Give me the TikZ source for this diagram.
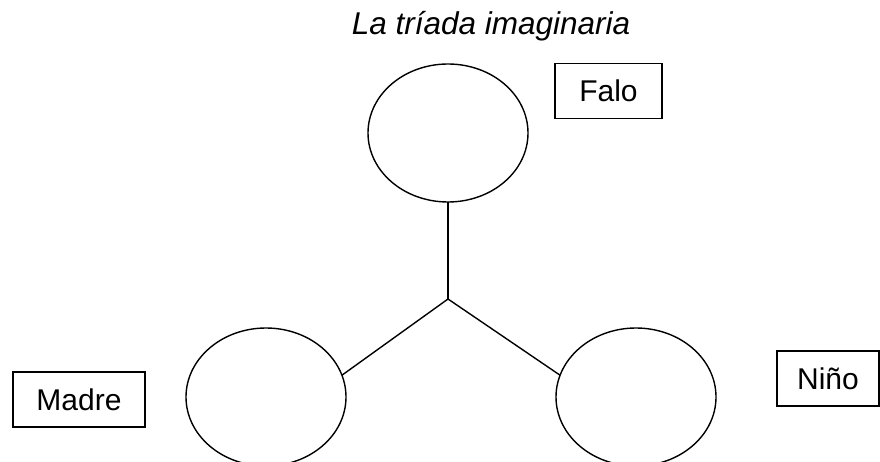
\documentclass[tikz,border=0pt]{standalone}
\usepackage{fontspec}
\setmainfont{Liberation Sans}
\usetikzlibrary{shapes.geometric}
\begin{document}
\begin{tikzpicture}[x=1pt,y=-1pt,line width=1.4pt,
  member/.style={ellipse,draw,minimum width=160pt,minimum height=138pt,inner sep=0pt,outer sep=0pt},
  tag/.style={rectangle,draw,line width=1.2pt,minimum height=55pt,inner sep=0pt,outer sep=0pt,font=\fontsize{30}{36}\selectfont},
  heading/.style={font=\fontsize{31.5}{38}\selectfont\itshape,inner sep=0pt}]
  \clip (0,0) rectangle (880,462);
  % title
  \node[heading,anchor=base] (title) at (491,35) {La tríada imaginaria};
  % the three members
  \node[member] (falo) at (448,133) {};
  \node[member] (madre) at (266,397) {};
  \node[member] (nino) at (636,397) {};
  % labels
  \node[tag,minimum width=107pt] (lfalo) at (608.5,91) {Falo};
  \node[tag,minimum width=132pt] (lmadre) at (79,399.5) {Madre};
  \node[tag,minimum width=102pt] (lnino) at (828,378.5) {Niño};
  % connectors meeting at the junction
  \coordinate (j) at (448,299);
  \draw (falo.south) -- (j);
  \draw (j) -- (madre.16);
  \draw (j) -- (nino.164);
\end{tikzpicture}
\end{document}
